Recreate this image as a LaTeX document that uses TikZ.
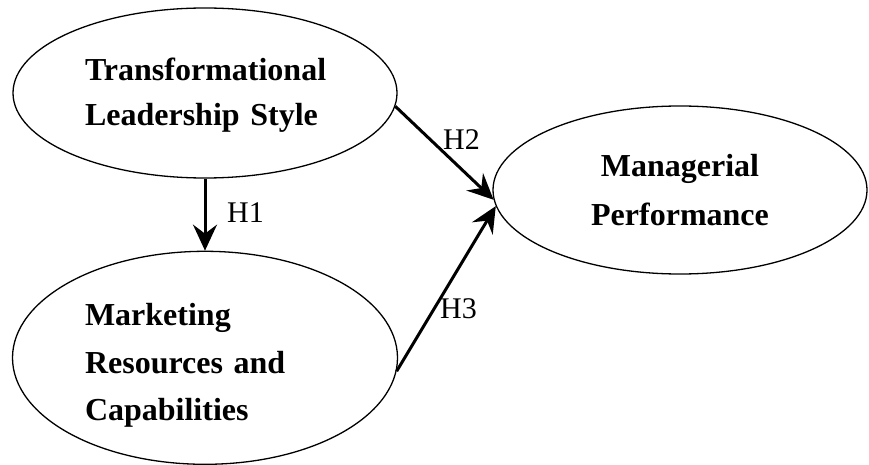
\documentclass[tikz,border=0pt]{standalone}
\usepackage{fontspec}
\setmainfont{Liberation Serif}
\usetikzlibrary{arrows.meta,positioning,shapes.geometric}

\begin{document}
\begin{tikzpicture}[x=1pt, y=-1pt, >={Stealth[length=26pt, width=24pt, inset=9pt]},
  construct/.style={draw, ellipse, line width=1.3pt, inner sep=0pt, align=left},
  lines/.style={font=\bfseries\fontsize{32}{#1}\selectfont},
  link/.style={->, line width=3pt},
  hyp/.style={anchor=base west, inner sep=0pt, font=\fontsize{30}{34}\selectfont}]
\useasboundingbox (0,0) rectangle (869,465);
\node[construct, lines=45, minimum width=384pt, minimum height=170pt, text width=240pt] (tls) at (205,93) {\rule{0pt}{26pt}Transformational\\Leadership Style};
\node[construct, lines=47.5, below=72pt of tls, minimum width=385pt, minimum height=213pt, text width=240pt] (mrc) {\rule{0pt}{38pt}Marketing\\Resources and\\Capabilities};
\node[construct, lines=49, minimum width=374pt, minimum height=168pt, align=center] (mp) at (680,190) {Managerial\\Performance};
\foreach \a/\b in {tls.south/mrc.north, tls.-4/mp.183, mrc.-4/mp.185}{\draw[link] (\a) -- (\b);}
\node[hyp] (h1) at (227,222) {H1};
\node[hyp] (h2) at (443,150) {H2};
\node[hyp] (h3) at (440,318) {H3};
\end{tikzpicture}
\end{document}
